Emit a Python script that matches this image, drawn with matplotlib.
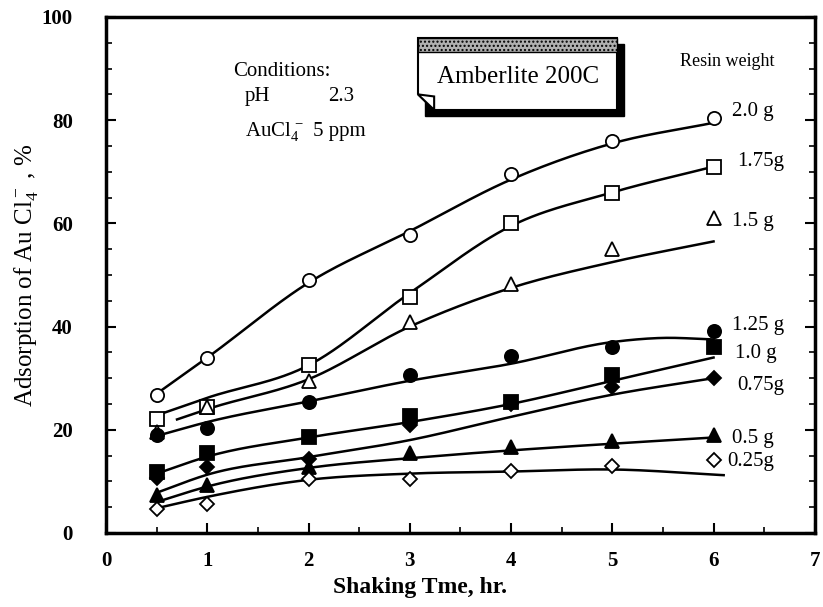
import numpy as np
import matplotlib.pyplot as plt
import matplotlib.patches as mpatches

plt.rcParams['font.family'] = ['Liberation Serif', 'DejaVu Serif']
plt.rcParams['mathtext.fontset'] = 'custom'
plt.rcParams['mathtext.rm'] = 'Liberation Serif'
plt.rcParams['mathtext.it'] = 'Liberation Serif'

# measured points (shaking time, hr) vs adsorption %
t = [0.5, 1, 2, 3, 4, 5, 6]
w200 = [26.8, 34.0, 49.0, 57.7, 69.5, 76.0, 80.4]
w175 = [22.0, 24.5, 32.6, 45.8, 60.0, 65.8, 70.9]
w150 = [19.6, 24.5, 29.5, 40.8, 48.2, 55.0, 61.0]
w125 = [19.0, 20.4, 25.4, 30.7, 34.2, 36.0, 39.2]
w100 = [11.8, 15.5, 18.6, 22.7, 25.4, 30.7, 36.0]
w075 = [10.7, 12.8, 14.4, 21.0, 25.0, 28.2, 30.1]
w050 = [7.4, 9.3, 12.8, 15.5, 16.7, 17.9, 19.0]
w025 = [4.7, 5.6, 10.5, 10.5, 12.0, 13.0, 14.2]

# hand drawn curves (knots)
c200_t = [0.5, 1, 2, 3, 4, 5, 6]
c200_y = [27.0, 34.0, 48.5, 58.5, 68.5, 75.5, 79.5]
c175_t = [0.5, 1, 2, 3, 4, 5, 6]
c175_y = [22.8, 26.2, 32.5, 46.5, 59.5, 66.0, 71.0]
c150_t = [0.7, 1, 2, 3, 4, 5, 6]
c150_y = [22.0, 24.0, 29.8, 40.0, 47.5, 52.5, 56.5]
c125_t = [0.5, 1, 2, 3, 4, 5, 5.5, 6]
c125_y = [18.8, 21.5, 25.5, 29.5, 32.8, 37.0, 37.8, 37.5]
c100_t = [0.5, 1, 2, 3, 4, 5, 6]
c100_y = [11.5, 14.8, 18.5, 21.5, 25.0, 29.5, 34.0]
c075_t = [0.5, 1, 2, 3, 4, 5, 6]
c075_y = [7.8, 11.3, 14.7, 18.0, 22.5, 26.8, 30.0]
c050_t = [0.5, 1, 2, 3, 4, 5, 6]
c050_y = [6.0, 9.0, 12.6, 14.5, 16.0, 17.3, 18.5]
c025_t = [0.5, 1, 2, 3, 4, 5, 6.1]
c025_y = [4.8, 7.0, 10.3, 11.5, 11.9, 12.3, 11.2]

labels = ['2.0 g', '1.75g', '1.5 g', '1.25 g', '1.0 g', '0.75g', '0.5 g', '0.25g']
label_x = [6.18, 6.23, 6.18, 6.18, 6.21, 6.23, 6.18, 6.14]
label_y = [81.7, 72.0, 60.4, 40.2, 34.8, 28.5, 18.4, 13.8]


def smooth(x, y, n=30):
    # cubic hermite through the knots, slopes from neighbours
    x = np.asarray(x, float)
    y = np.asarray(y, float)
    m = np.gradient(y, x)
    xs, ys = [], []
    for i in range(len(x) - 1):
        h = x[i + 1] - x[i]
        s = np.linspace(0, 1, n)
        h00 = 2 * s**3 - 3 * s**2 + 1
        h10 = s**3 - 2 * s**2 + s
        h01 = -2 * s**3 + 3 * s**2
        h11 = s**3 - s**2
        xs.append(x[i] + s * h)
        ys.append(h00 * y[i] + h10 * h * m[i] + h01 * y[i + 1] + h11 * h * m[i + 1])
    return np.concatenate(xs), np.concatenate(ys)


fig = plt.figure(figsize=(8.23, 6.07), dpi=100)
ax = fig.add_axes([0.129, 0.122, 0.861, 0.85])

series = [
    (w200, c200_t, c200_y, 'o', 'white'),
    (w175, c175_t, c175_y, 's', 'white'),
    (w150, c150_t, c150_y, '^', 'white'),
    (w125, c125_t, c125_y, 'o', 'black'),
    (w100, c100_t, c100_y, 's', 'black'),
    (w075, c075_t, c075_y, 'D', 'black'),
    (w050, c050_t, c050_y, '^', 'black'),
    (w025, c025_t, c025_y, 'D', 'white'),
]
for vals, ct, cy, mk, fc in series:
    xs, ys = smooth(ct, cy)
    ax.plot(xs, ys, color='black', lw=1.8, zorder=2)
    ms = 7.5 if mk == 'D' else 9.5
    ax.plot(t, vals, linestyle='none', marker=mk, markersize=ms,
            markerfacecolor=fc, markeredgecolor='black', markeredgewidth=1.3, zorder=3)

for lab, lx, ly in zip(labels, label_x, label_y):
    ax.text(lx, ly, lab, fontsize=15, va='center', ha='left')
ax.text(5.67, 91.3, 'Resin weight', fontsize=13, va='center', ha='left')

# conditions
ax.text(1.25, 89.5, 'Conditions:', fontsize=15, va='center')
ax.text(1.37, 84.5, 'pH', fontsize=15, va='center')
ax.text(2.19, 84.5, '2.3', fontsize=15, va='center')
ax.text(1.37, 77.9, 'AuCl$_4^{\\,-}$', fontsize=15, va='center')
ax.text(2.04, 77.9, '5 ppm', fontsize=15, va='center')

# Amberlite box with shadow and folded corner
bx0, bx1, by0, by1 = 3.08, 5.05, 82.0, 96.0
ax.add_patch(mpatches.Rectangle((bx0 + 0.07, by0 - 1.2), bx1 - bx0, by1 - by0,
                                facecolor='black', edgecolor='black', zorder=4))
ax.add_patch(mpatches.Polygon([[bx0 + 0.16, by0], [bx1, by0], [bx1, by1], [bx0, by1], [bx0, by0 + 3.0]],
                              closed=True, facecolor='white', edgecolor='black', lw=1.5, zorder=5))
ax.add_patch(mpatches.Rectangle((bx0, by1 - 2.8), bx1 - bx0, 2.8, facecolor='#b0b0b0',
                                edgecolor='black', hatch='....', lw=1.0, zorder=6))
ax.add_patch(mpatches.Polygon([[bx0, by0 + 3.0], [bx0 + 0.16, by0 + 2.6], [bx0 + 0.16, by0]],
                              closed=True, facecolor='white', edgecolor='black', lw=1.5, zorder=6))
ax.text((bx0 + bx1) / 2, 88.3, 'Amberlite 200C', fontsize=18, ha='center', va='center', zorder=7)

ax.set_xlim(0, 7)
ax.set_ylim(0, 100)
ax.set_xticks(range(0, 8))
ax.set_yticks(range(0, 101, 20))
ax.set_xticks(np.arange(0, 7.01, 0.5), minor=True)
ax.set_yticks(range(0, 101, 5), minor=True)
ax.tick_params(which='both', direction='in', right=True, top=False, labelsize=15)
ax.tick_params(axis='x', pad=13)
ax.tick_params(axis='y', pad=24)
ax.tick_params(which='major', length=7, width=1.5)
ax.tick_params(which='minor', length=4, width=1.2)
for lab in ax.get_xticklabels() + ax.get_yticklabels():
    lab.set_fontweight('bold')
for sp in ax.spines.values():
    sp.set_linewidth(2.5)

ax.set_xlabel('Shaking Tme, hr.', fontsize=17, fontweight='bold')
ax.xaxis.set_label_coords((420 - 106) / 709, -0.085)
ax.set_ylabel('Adsorption of Au Cl$_4^-$ , %', fontsize=18)
ax.yaxis.set_label_coords(-0.093, 0.5)

fig.savefig('out.png', dpi=100)
